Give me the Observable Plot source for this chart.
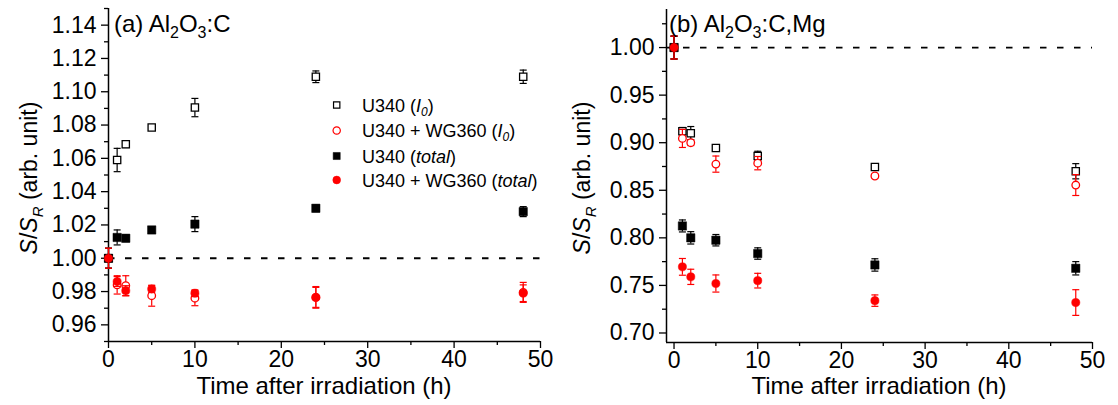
<!DOCTYPE html>
<html><head><meta charset="utf-8">
<script src="https://cdn.jsdelivr.net/npm/d3@7"></script>
<script src="https://cdn.jsdelivr.net/npm/@observablehq/plot@0.6"></script>
<style>
body{margin:0;background:#fff;}
#wrap{position:relative;width:1118px;height:405px;font-family:"Liberation Sans",Arial,sans-serif;}
#wrap svg{position:absolute;top:0;overflow:visible}
</style></head><body><div id="wrap"></div>
<script>
// ---- data ----
const times = [0, 1, 2, 5, 10, 24, 48];
const seriesKeys = ["U340 I0", "U340+WG360 I0", "U340 total", "U340+WG360 total"];

// Panel (a) Al2O3:C
const aU340I0      = [1.000, 1.059, 1.0685, 1.0785, 1.0905, 1.109, 1.109];
const aU340I0Err   = [0.006, 0.007, 0.002, 0.001, 0.0055, 0.0035, 0.004];
const aWGI0        = [1.000, 0.984, 0.9835, 0.9775, 0.976, 0.9765, 0.9795];
const aWGI0Err     = [0.006, 0.0055, 0.006, 0.0063, 0.0045, 0.006, 0.006];
const aU340Tot     = [1.000, 1.0125, 1.012, 1.017, 1.0205, 1.030, 1.028];
const aU340TotErr  = [0.006, 0.0045, 0.002, 0.002, 0.0045, 0.002, 0.003];
const aWGTot       = [1.000, 0.986, 0.9805, 0.9815, 0.979, 0.9765, 0.979];
const aWGTotErr    = [0.006, 0.003, 0.003, 0.002, 0.002, 0.0065, 0.005];

// Panel (b) Al2O3:C,Mg
const bU340I0      = [1.000, 0.912, 0.910, 0.8945, 0.886, 0.8745, 0.870];
const bU340I0Err   = [0.012, 0.004, 0.007, 0.002, 0.005, 0.002, 0.008];
const bWGI0        = [1.000, 0.9045, 0.900, 0.8775, 0.8785, 0.865, 0.8555];
const bWGI0Err     = [0.012, 0.0095, 0.003, 0.0085, 0.007, 0.002, 0.011];
const bU340Tot     = [1.000, 0.8125, 0.800, 0.7975, 0.7835, 0.7715, 0.768];
const bU340TotErr  = [0.012, 0.0063, 0.0065, 0.006, 0.006, 0.0065, 0.007];
const bWGTot       = [1.000, 0.7695, 0.759, 0.752, 0.755, 0.734, 0.732];
const bWGTotErr    = [0.012, 0.0088, 0.008, 0.009, 0.0077, 0.006, 0.0135];

// ticks
const xTicks = [0, 10, 20, 30, 40, 50];
const xMinor = [5, 15, 25, 35, 45];
const yTicksA = [0.96, 0.98, 1.00, 1.02, 1.04, 1.06, 1.08, 1.10, 1.12, 1.14];
const yMinorA = [0.95, 0.97, 0.99, 1.01, 1.03, 1.05, 1.07, 1.09, 1.11, 1.13, 1.15];
const yTicksB = [0.70, 0.75, 0.80, 0.85, 0.90, 0.95, 1.00];
const yMinorB = [0.725, 0.775, 0.825, 0.875, 0.925, 0.975, 1.025];
const xTitle = "Time after irradiation (h)";

// ---- styles ----
const FONT = '"Liberation Sans", Arial, sans-serif';
const seriesStyle = {
  "U340 I0":          {symbol: "square", fill: "white", stroke: "black", r: 4.1, strokeWidth: 1.3, color: "black"},
  "U340+WG360 I0":    {symbol: "circle", fill: "white", stroke: "red", r: 3.8, strokeWidth: 1.3, color: "red"},
  "U340 total":       {symbol: "square", fill: "black", stroke: "black", r: 4.7, strokeWidth: 0.5, color: "black"},
  "U340+WG360 total": {symbol: "circle", fill: "red", stroke: "red", r: 4.1, strokeWidth: 0.5, color: "red"}
};
const capSymbol = {draw(ctx) { ctx.moveTo(-3.5, 0); ctx.lineTo(3.5, 0); }};

function rows(vals, errs) { return times.map((t, i) => ({t, y: vals[i], e: errs[i]})); }

function seriesMarks(data) {
  const marks = [];
  for (const key of seriesKeys) {
    const d = data[key], s = seriesStyle[key];
    marks.push(Plot.ruleX(d, {x: "t", y1: r => r.y - r.e, y2: r => r.y + r.e, stroke: s.color, strokeWidth: 1.2}));
    marks.push(Plot.dot(d, {x: "t", y: r => r.y + r.e, symbol: capSymbol, stroke: s.color, fill: "none", strokeWidth: 1.2}));
    marks.push(Plot.dot(d, {x: "t", y: r => r.y - r.e, symbol: capSymbol, stroke: s.color, fill: "none", strokeWidth: 1.2}));
    marks.push(Plot.dot(d, {x: "t", y: "y", symbol: s.symbol, r: s.r, fill: s.fill, stroke: s.stroke, strokeWidth: s.strokeWidth}));
  }
  return marks;
}

function panel({width, left, marginLeft, marginRight, marginTop, marginBottom, xDomain, yDomain, yTicks, yMinor, data}) {
  const chart = Plot.plot({
    width, height: 405, marginLeft, marginRight, marginTop, marginBottom,
    style: {fontFamily: FONT, fontSize: "23px", color: "black", background: "transparent", overflow: "visible"},
    x: {domain: xDomain},
    y: {domain: yDomain},
    marks: [
      Plot.ruleY([1], {stroke: "black", strokeWidth: 1.8, strokeDasharray: "6.5,10.5"}),
      Plot.axisX({ticks: xTicks, tickSize: 7, tickPadding: 2, tickFormat: d => String(d), strokeWidth: 1.3, fontSize: 23, label: null}),
      Plot.axisX({ticks: xMinor, tickSize: 4, tickFormat: () => "", strokeWidth: 1.3, label: null}),
      Plot.axisY({ticks: yTicks, tickSize: 7, tickPadding: 5, tickFormat: d3.format(".2f"), strokeWidth: 1.3, fontSize: 23, label: null}),
      Plot.axisY({ticks: yMinor, tickSize: 4, tickFormat: () => "", strokeWidth: 1.3, label: null}),
      Plot.ruleX([xDomain[0]], {stroke: "black", strokeWidth: 1.5}),
      Plot.ruleY([yDomain[0]], {stroke: "black", strokeWidth: 1.5}),
      ...seriesMarks(data)
    ]
  });
  chart.style.left = left + "px";
  document.getElementById("wrap").appendChild(chart);
  const svg = d3.select(chart);
  // x axis title centred under the plot area
  svg.append("text").attr("x", (marginLeft + width - marginRight) / 2).attr("y", 394)
    .attr("text-anchor", "middle").attr("font-family", FONT).attr("font-size", 24).attr("fill", "black").text(xTitle);
  return svg;
}

function yTitle(svg, x, y) {
  const t = svg.append("text").attr("transform", `translate(${x},${y}) rotate(-90)`)
    .attr("text-anchor", "middle").attr("font-family", FONT).attr("font-size", 23).attr("fill", "black");
  t.append("tspan").attr("font-style", "italic").text("S");
  t.append("tspan").text("/");
  t.append("tspan").attr("font-style", "italic").text("S");
  t.append("tspan").attr("font-style", "italic").attr("font-size", 15).attr("dy", 6).text("R");
  t.append("tspan").attr("dy", -6).text(" (arb. unit)");
}

function title(svg, x, y, label, parts) {
  const t = svg.append("text").attr("x", x).attr("y", y).attr("text-anchor", "start")
    .attr("font-family", FONT).attr("font-size", 24).attr("fill", "black");
  t.append("tspan").text(label + " Al");
  t.append("tspan").attr("font-size", 16).attr("dy", 6).text("2");
  t.append("tspan").attr("dy", -6).text("O");
  t.append("tspan").attr("font-size", 16).attr("dy", 6).text("3");
  t.append("tspan").attr("dy", -6).text(parts);
}

const dataA = {
  "U340 I0": rows(aU340I0, aU340I0Err),
  "U340+WG360 I0": rows(aWGI0, aWGI0Err),
  "U340 total": rows(aU340Tot, aU340TotErr),
  "U340+WG360 total": rows(aWGTot, aWGTotErr)
};
const dataB = {
  "U340 I0": rows(bU340I0, bU340I0Err),
  "U340+WG360 I0": rows(bWGI0, bWGI0Err),
  "U340 total": rows(bU340Tot, bU340TotErr),
  "U340+WG360 total": rows(bWGTot, bWGTotErr)
};

const svgA = panel({width: 560, left: 0, marginLeft: 108, marginRight: 20, marginTop: 8, marginBottom: 64,
  xDomain: [0, 50], yDomain: [0.95, 1.15], yTicks: yTicksA, yMinor: yMinorA, data: dataA});
const svgB = panel({width: 558, left: 560, marginLeft: 106, marginRight: 26, marginTop: 9, marginBottom: 63,
  xDomain: [-0.9, 50], yDomain: [0.69, 1.04], yTicks: yTicksB, yMinor: yMinorB, data: dataB});

yTitle(svgA, 37, 178);
yTitle(svgB, 30, 178);
title(svgA, 114, 32, "(a)", ":C");
title(svgB, 109, 32, "(b)", ":C,Mg");

// legend (panel a)
const legendRows = [
  {key: "U340 I0", parts: [["U340 (", ""], ["I", "i"], ["0", "isub"], [")", ""]]},
  {key: "U340+WG360 I0", parts: [["U340 + WG360 (", ""], ["I", "i"], ["0", "isub"], [")", ""]]},
  {key: "U340 total", parts: [["U340 (", ""], ["total", "i"], [")", ""]]},
  {key: "U340+WG360 total", parts: [["U340 + WG360 (", ""], ["total", "i"], [")", ""]]}
];
const legendY = [105, 130.5, 156, 180];
const lg = svgA.append("g");
legendRows.forEach((row, i) => {
  const s = seriesStyle[row.key];
  const cy = legendY[i];
  const size = s.symbol === "square" ? (s.fill === "white" ? 40 : 50) : (s.fill === "white" ? 42 : 48);
  lg.append("path").attr("transform", `translate(336.7,${cy})`)
    .attr("d", d3.symbol(s.symbol === "square" ? d3.symbolSquare : d3.symbolCircle, size)())
    .attr("fill", s.fill).attr("stroke", s.stroke).attr("stroke-width", s.fill === "white" ? 1.2 : 0.5);
  const t = lg.append("text").attr("x", 362).attr("y", cy + 6.5).attr("text-anchor", "start")
    .attr("font-family", FONT).attr("font-size", 18).attr("fill", "black");
  let shifted = false;
  row.parts.forEach(([txt, sty]) => {
    const sp = t.append("tspan").text(txt);
    if (sty === "i" || sty === "isub") sp.attr("font-style", "italic");
    if (sty === "isub") { sp.attr("font-size", 12).attr("dy", 4); shifted = true; }
    else if (shifted) { sp.attr("dy", -4); shifted = false; }
  });
});
</script></body></html>
